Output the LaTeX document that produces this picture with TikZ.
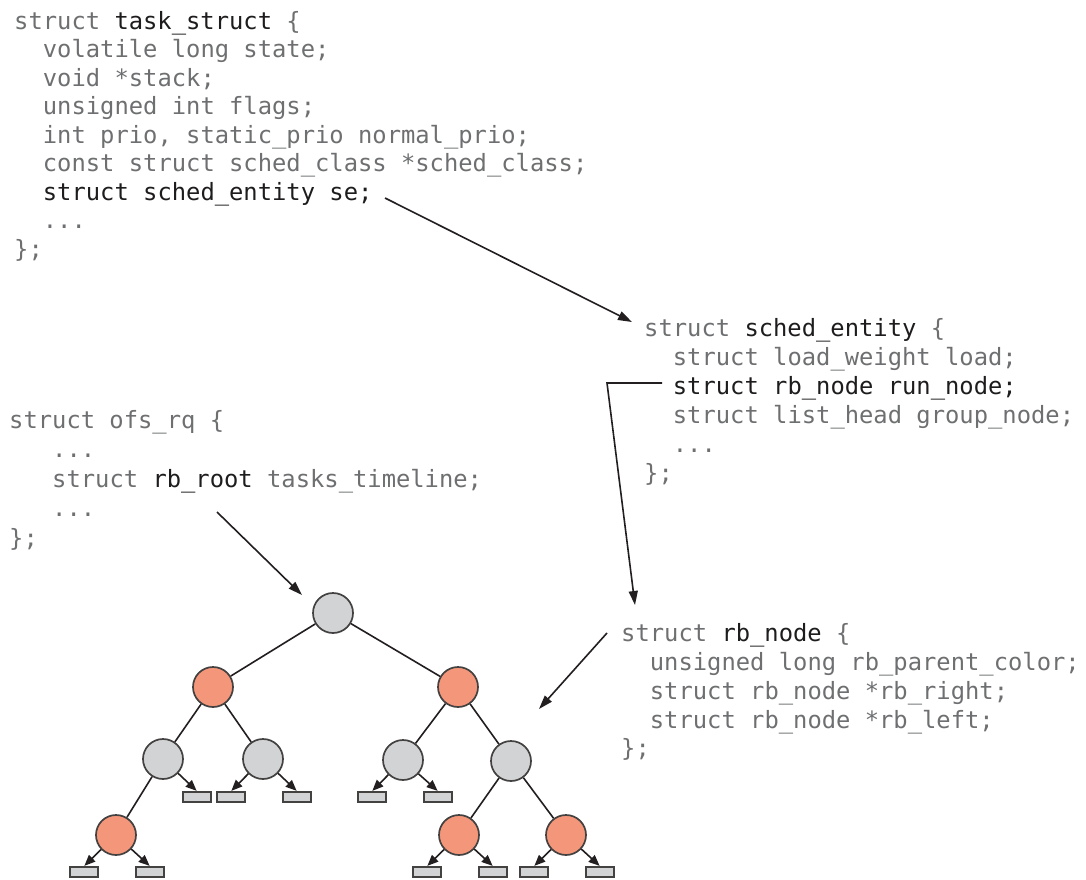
\documentclass[tikz,border=0pt]{standalone}
\usepackage{fontspec}
\newfontfamily\codefont{DejaVu Sans Mono}
\usetikzlibrary{arrows.meta}
\definecolor{codegray}{RGB}{110,111,113}
\definecolor{codeblack}{RGB}{30,28,29}
\definecolor{nodegray}{RGB}{209,211,212}
\definecolor{nodered}{RGB}{244,150,122}
\definecolor{edgecol}{RGB}{35,31,32}
\newcommand\codehl[1]{\textcolor{codeblack}{#1}}
\begin{document}
\begin{tikzpicture}[x=1pt,y=-1pt,
  codeline/.style={font={\codefont\fontsize{23.8pt}{28pt}\selectfont}, text=codegray, inner sep=0pt, anchor=base west},
  mainarrow/.style={draw=edgecol, line width=1.6pt, -{Triangle[length=14pt,width=9pt]}},
  treeedge/.style={draw=edgecol, line width=1.6pt},
  leafarrow/.style={draw=edgecol, line width=1.6pt, -{Triangle[length=11pt,width=9pt]}, shorten >=0.5pt},
  graynode/.style={circle, draw=edgecol!85, line width=1.7pt, fill=nodegray, minimum size=40pt, inner sep=0pt},
  rednode/.style={circle, draw=edgecol!85, line width=1.7pt, fill=nodered, minimum size=40pt, inner sep=0pt},
  leafbox/.style={rectangle, draw=edgecol!85, line width=1.6pt, fill=nodegray, minimum width=28pt, minimum height=10pt, inner sep=0pt}
]
\useasboundingbox (0,0) rectangle (1086,880);

% struct task_struct
\node[codeline] (ts1) at (14,29.3) {struct \codehl{task\_struct} \{};
\node[codeline] (ts2) at (42.7,57.8) {volatile long state;};
\node[codeline] (ts3) at (42.7,86.3) {void *stack;};
\node[codeline] (ts4) at (42.7,114.8) {unsigned int flags;};
\node[codeline] (ts5) at (42.7,143.3) {int prio, static\_prio normal\_prio;};
\node[codeline] (ts6) at (42.7,171.8) {const struct sched\_class *sched\_class;};
\node[codeline] (ts7) at (42.7,200.3) {\codehl{struct sched\_entity se;}};
\node[codeline] (ts8) at (42.7,228.8) {...};
\node[codeline] (ts9) at (14,257.3) {\};};

% struct sched_entity
\node[codeline] (se1) at (644,336.7) {struct \codehl{sched\_entity} \{};
\node[codeline] (se2) at (672.7,365.7) {struct load\_weight load;};
\node[codeline] (se3) at (672.7,394.7) {\codehl{struct rb\_node run\_node;}};
\node[codeline] (se4) at (672.7,423.7) {struct list\_head group\_node;};
\node[codeline] (se5) at (672.7,452.7) {...};
\node[codeline] (se6) at (644,481.7) {\};};

% struct ofs_rq
\node[codeline] (rq1) at (9,428.3) {struct ofs\_rq \{};
\node[codeline] (rq2) at (52,457.8) {...};
\node[codeline] (rq3) at (52,487.3) {struct \codehl{rb\_root} tasks\_timeline;};
\node[codeline] (rq4) at (52,516.8) {...};
\node[codeline] (rq5) at (9,546.3) {\};};

% struct rb_node
\node[codeline] (rb1) at (621,641.7) {struct \codehl{rb\_node} \{};
\node[codeline] (rb2) at (649.7,670.5) {unsigned long rb\_parent\_color;};
\node[codeline] (rb3) at (649.7,699.3) {struct rb\_node *rb\_right;};
\node[codeline] (rb4) at (649.7,728.1) {struct rb\_node *rb\_left;};
\node[codeline] (rb5) at (621,756.9) {\};};

% tree nodes
\node[graynode] (n0) at (333,613) {};
\node[rednode] (l1) at (213,687) {};
\node[rednode] (r1) at (458,687) {};
\node[graynode] (l2a) at (163,759) {};
\node[graynode] (l2b) at (263,759) {};
\node[graynode] (r2a) at (403,760) {};
\node[graynode] (r2b) at (511,761) {};
\node[rednode] (l3) at (116,835) {};
\node[rednode] (r3a) at (459,835) {};
\node[rednode] (r3b) at (566,835) {};

% leaves
\node[leafbox] (f1) at (197,797) {};
\node[leafbox] (f2) at (231,797) {};
\node[leafbox] (f3) at (297,797) {};
\node[leafbox] (f4) at (372,797) {};
\node[leafbox] (f5) at (438,797) {};
\node[leafbox] (f6) at (84,872) {};
\node[leafbox] (f7) at (150,872) {};
\node[leafbox] (f8) at (427,872) {};
\node[leafbox] (f9) at (493,872) {};
\node[leafbox] (f10) at (534,872) {};
\node[leafbox] (f11) at (600,872) {};

% tree edges
\draw[treeedge] (n0) -- (l1);
\draw[treeedge] (n0) -- (r1);
\draw[treeedge] (l1) -- (l2a);
\draw[treeedge] (l1) -- (l2b);
\draw[treeedge] (l2a) -- (l3);
\draw[treeedge] (r1) -- (r2a);
\draw[treeedge] (r1) -- (r2b);
\draw[treeedge] (r2b) -- (r3a);
\draw[treeedge] (r2b) -- (r3b);

% leaf arrows
\draw[leafarrow] (l2a) -- (f1.north);
\draw[leafarrow] (l2b) -- (f2.north);
\draw[leafarrow] (l2b) -- (f3.north);
\draw[leafarrow] (r2a) -- (f4.north);
\draw[leafarrow] (r2a) -- (f5.north);
\draw[leafarrow] (l3) -- (f6.north);
\draw[leafarrow] (l3) -- (f7.north);
\draw[leafarrow] (r3a) -- (f8.north);
\draw[leafarrow] (r3a) -- (f9.north);
\draw[leafarrow] (r3b) -- (f10.north);
\draw[leafarrow] (r3b) -- (f11.north);

% connectors between structures
\coordinate (seStart) at (385,198);
\coordinate (seEnd) at (632,322);
\coordinate (rootStart) at (217,512);
\coordinate (rootEnd) at (302,595);
\coordinate (rnA) at (662,383);
\coordinate (rnB) at (607,383);
\coordinate (rnC) at (635,605);
\coordinate (rbStart) at (607,633);
\coordinate (rbEnd) at (539,709);

\draw[mainarrow] (seStart) -- (seEnd);
\draw[mainarrow] (rootStart) -- (rootEnd);
\draw[mainarrow] (rnA) -- (rnB) -- (rnC);
\draw[mainarrow] (rbStart) -- (rbEnd);
\end{tikzpicture}
\end{document}
